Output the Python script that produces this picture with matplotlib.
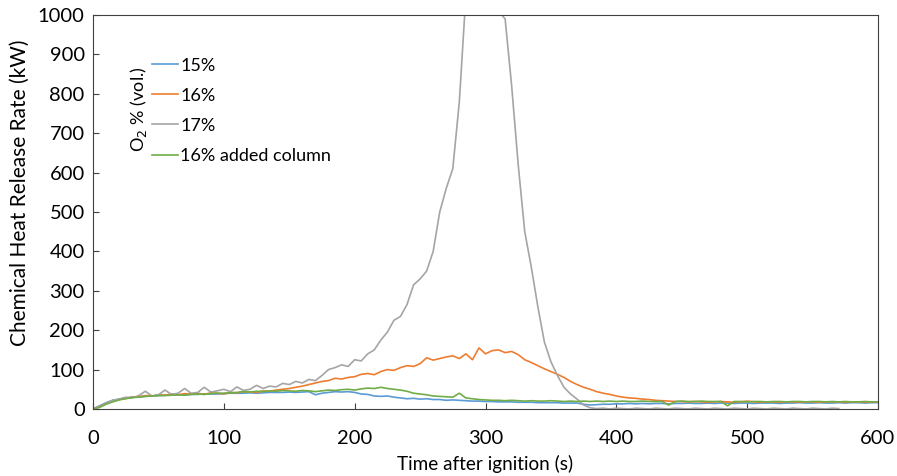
import numpy as np
import matplotlib.pyplot as plt

plt.rcParams['font.family'] = ['Lato', 'DejaVu Sans']

# time axis (s), 5 s steps
time_s = np.arange(0, 605, 5)

o2_15 = [0, 8, 16, 22, 25, 28, 30, 31, 32, 33, 34, 35, 35, 36, 36, 37, 37, 38, 38, 38,
         39, 40, 40, 40, 41, 40, 41, 42, 42, 42, 43, 42, 43, 44, 36, 40, 42, 44, 43, 44,
         42, 38, 37, 33, 32, 33, 30, 28, 26, 27, 25, 26, 24, 24, 22, 23, 22, 21, 20, 20,
         19, 19, 18, 18, 18, 17, 17, 17, 16, 16, 16, 16, 15, 15, 15, 12, 10, 11, 12, 12,
         13, 13, 14, 13, 14, 13, 14, 14, 13, 14, 14, 15, 14, 14, 15, 14, 15, 15, 14, 15,
         15, 14, 15, 15, 15, 14, 15, 15, 16, 15, 15, 16, 15, 15, 16, 15, 16, 16, 15, 16, 16]

o2_16 = [0, 6, 14, 20, 24, 27, 30, 31, 34, 33, 36, 35, 38, 36, 39, 38, 40, 37, 41, 40,
         38, 42, 41, 44, 43, 42, 46, 45, 48, 50, 52, 55, 58, 62, 66, 70, 72, 78, 76, 80,
         82, 88, 90, 87, 95, 100, 98, 105, 110, 108, 115, 130, 124, 128, 132, 135, 128, 140, 125, 155,
         140, 148, 150, 143, 146, 138, 125, 118, 110, 102, 95, 88, 80, 70, 62, 55, 50, 44, 40, 37,
         33, 30, 28, 27, 25, 24, 22, 21, 20, 19, 19, 18, 19, 18, 17, 18, 19, 18, 17, 18,
         20, 18, 17, 18, 18, 17, 18, 18, 17, 18, 18, 17, 18, 18, 18, 17, 18, 18, 17, 18, 18]

o2_17 = [0, 5, 15, 22, 25, 30, 28, 34, 45, 33, 36, 48, 37, 40, 52, 40, 42, 55, 43, 46,
         50, 44, 56, 47, 50, 60, 52, 58, 56, 65, 62, 70, 66, 75, 72, 85, 100, 105, 112, 108,
         125, 122, 140, 150, 175, 195, 225, 235, 265, 315, 330, 350, 400, 500, 560, 610, 780, 1050, 1150, 1200,
         1180, 1120, 1010, 990, 820, 620, 450, 360, 260, 170, 120, 85, 55, 38, 25, 10, 3, 1, 2, 0,
         2, 1, 0, 2, 1, 0, 2, 1, 0, 2, 1, 0, 2, 1, 0, 2, 1, 0, 2, 1,
         0, 2, 1, 0, 2, 1, 0, 2, 1, 0, 2, 1, 0, 2, 1, np.nan, np.nan, np.nan, np.nan, np.nan, np.nan]

o2_16_col = [0, 4, 12, 18, 23, 26, 29, 30, 32, 33, 34, 34, 35, 36, 35, 37, 38, 37, 39, 40,
             40, 41, 42, 44, 43, 45, 44, 46, 45, 47, 46, 45, 47, 46, 44, 46, 48, 47, 49, 50,
             48, 51, 53, 52, 55, 52, 50, 48, 45, 40, 38, 36, 33, 32, 31, 30, 40, 28, 26, 24,
             23, 22, 22, 21, 22, 21, 20, 21, 20, 20, 21, 20, 19, 20, 19, 20, 19, 20, 19, 20,
             19, 20, 19, 19, 20, 19, 19, 19, 10, 19, 20, 19, 19, 20, 19, 19, 19, 8, 19, 19,
             18, 19, 19, 18, 19, 19, 18, 19, 19, 18, 19, 19, 18, 19, 18, 19, 18, 18, 19, 18, 18]

fig = plt.figure(figsize=(8.97, 4.76), dpi=100)
ax = fig.add_axes([0.1037, 0.1408, 0.8751, 0.8277])

ax.plot(time_s, o2_15, color='#5B9BD5', lw=1.2, label='15%')
ax.plot(time_s, o2_16, color='#ED7D31', lw=1.2, label='16%')
ax.plot(time_s, o2_17, color='#A5A5A5', lw=1.2, label='17%')
ax.plot(time_s, o2_16_col, color='#70AD47', lw=1.2, label='16% added column')

ax.set_xlim(0, 600)
ax.set_ylim(0, 1000)
ax.set_xticks(range(0, 601, 100))
ax.set_yticks(range(0, 1001, 100))
ax.tick_params(direction='in', length=4, labelsize=14.5, color='#404040')
ax.tick_params(axis='x', pad=15)
ax.tick_params(axis='y', pad=6)
for s in ax.spines.values():
    s.set_color('#404040')
ax.set_xlabel('Time after ignition (s)', fontsize=13.6, labelpad=6)
ax.set_ylabel('Chemical Heat Release Rate (kW)', fontsize=15)
ax.yaxis.set_label_coords(-0.08, 0.55)

leg = ax.legend(loc='upper left', bbox_to_anchor=(0.055, 0.933), frameon=False,
                handlelength=1.4, handletextpad=0.15, labelspacing=0.78, fontsize=13)
ax.text(0.058, 0.76, 'O$_2$ % (vol.)', transform=ax.transAxes, rotation=90,
        ha='center', va='center', fontsize=13)

fig.savefig('out.png', dpi=100)
